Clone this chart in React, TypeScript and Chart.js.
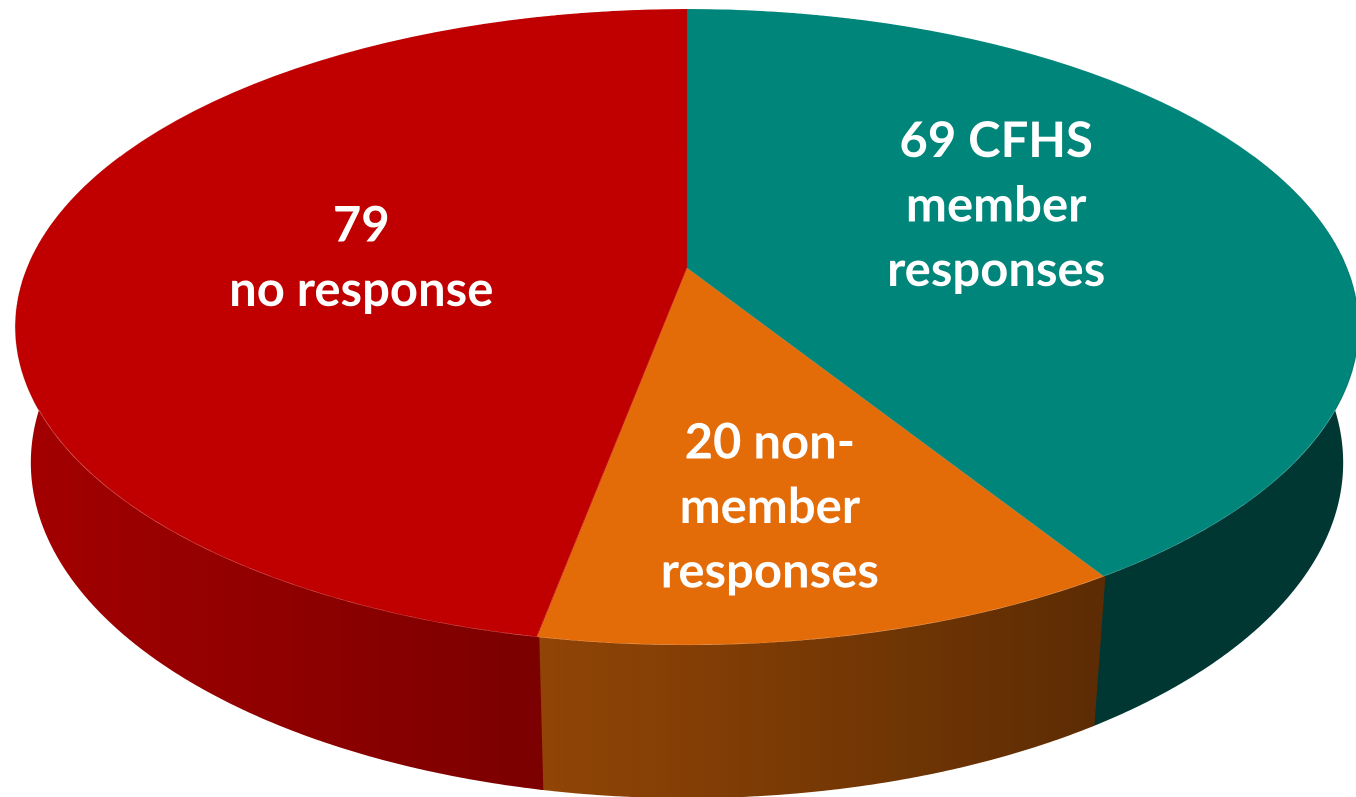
import React, { useEffect, useRef } from "react";
import { Chart, registerables } from "chart.js";

Chart.register(...registerables);

// ---- data ----
const CATEGORIES = ["CFHS member responses", "Non-member responses", "No response"];
const VALUES = [69, 20, 79];
const COLORS = ["#00857A", "#E36C09", "#C00000"];
const LABEL_LINES = [
  ["{v} CFHS", "member", "responses"],
  ["{v} non-", "member", "responses"],
  ["{v}", "no response"],
];

// ---- layout / style ----
const W = 1356;
const H = 797;
const CAMERA = {
  u0: 687,
  v0: 268,
  focal: 3149,
  distance: 4.771,
  tilt: (27.72 * Math.PI) / 180,
  depth: 0.2343,
};
const LABEL_STYLE = { size: 49, family: "Lato", lineHeight: 64.5, capHeight: 34, color: "#ffffff" };
const LABEL_POS = [
  { r: 0.5, dx: 0, dy: -22 },
  { r: 0.69, dx: -14, dy: 0 },
  { r: 0.5, dx: 0, dy: 3 },
];

function project(X: number, Y: number, Z: number): [number, number] {
  const s = Math.sin(CAMERA.tilt);
  const c = Math.cos(CAMERA.tilt);
  const w = CAMERA.distance + Y * c - Z * s;
  return [CAMERA.u0 + (CAMERA.focal * X) / w, CAMERA.v0 - (CAMERA.focal * (Y * s + Z * c)) / w];
}

function shadeAt(x: number) {
  return Math.min(1, Math.max(0.41, 0.85 - 0.000411 * (x - 30)));
}

function scaleColor(hex: string, k: number) {
  const h = hex.replace("#", "");
  const r = parseInt(h.slice(0, 2), 16);
  const g = parseInt(h.slice(2, 4), 16);
  const b = parseInt(h.slice(4, 6), 16);
  return `rgb(${Math.round(r * k)},${Math.round(g * k)},${Math.round(b * k)})`;
}

const pie3d = {
  id: "pie3d",
  afterDraw(chart: any) {
    const meta = chart.getDatasetMeta(0);
    const arcs = meta.data;
    if (!arcs || !arcs.length) return;
    const canvas: HTMLCanvasElement = chart.canvas;
    const ctx: CanvasRenderingContext2D = chart.ctx;
    const pr = chart.currentDevicePixelRatio || 1;
    const base = arcs[0].getProps(["x", "y", "outerRadius"], true);
    const cx = base.x;
    const cy = base.y;
    const R = base.outerRadius;

    const off = document.createElement("canvas");
    off.width = canvas.width;
    off.height = canvas.height;
    (off.getContext("2d") as CanvasRenderingContext2D).drawImage(canvas, 0, 0);

    ctx.save();
    ctx.setTransform(pr, 0, 0, pr, 0, 0);
    ctx.clearRect(0, 0, chart.width, chart.height);

    const s = Math.sin(CAMERA.tilt);
    const c = Math.cos(CAMERA.tilt);

    // side walls
    const front0 = Math.PI / 2 - 0.4;
    const front1 = 1.5 * Math.PI + 0.4;
    arcs.forEach((el: any) => {
      const p = el.getProps(["startAngle", "endAngle"], true);
      const a = Math.max(p.startAngle + Math.PI / 2 - 0.003, front0);
      const b = Math.min(p.endAngle + Math.PI / 2 + 0.003, front1);
      if (b <= a) return;
      const n = Math.max(8, Math.ceil((b - a) / 0.005));
      const top: [number, number][] = [];
      const bot: [number, number][] = [];
      for (let k = 0; k <= n; k++) {
        const t = a + ((b - a) * k) / n;
        const X = Math.sin(t);
        const Y = Math.cos(t);
        top.push(project(X, Y, 0));
        bot.push(project(X, Y, -CAMERA.depth));
      }
      let minX = Infinity;
      let maxX = -Infinity;
      [...top, ...bot].forEach(([x]) => {
        minX = Math.min(minX, x);
        maxX = Math.max(maxX, x);
      });
      const color = el.options.backgroundColor as string;
      const g = ctx.createLinearGradient(minX, 0, maxX + 0.01, 0);
      for (let k = 0; k <= 12; k++) {
        const x = minX + ((maxX - minX) * k) / 12;
        g.addColorStop(k / 12, scaleColor(color, shadeAt(x)));
      }
      ctx.beginPath();
      ctx.moveTo(top[0][0], top[0][1]);
      for (let k = 1; k < top.length; k++) ctx.lineTo(top[k][0], top[k][1]);
      for (let k = bot.length - 1; k >= 0; k--) ctx.lineTo(bot[k][0], bot[k][1]);
      ctx.closePath();
      ctx.fillStyle = g;
      ctx.fill();
    });

    // top face: perspective warp of the flat pie, row by row
    const rowY = (v: number) => {
      const t = (CAMERA.v0 - v) / CAMERA.focal;
      return (t * CAMERA.distance) / (s - t * c);
    };
    const vTop = project(0, 1, 0)[1];
    const vBot = project(0, -1, 0)[1];
    const sx = (cx - R - 1) * pr;
    const sw = (2 * R + 2) * pr;
    const widthScale = (R + 1) / R;
    ctx.imageSmoothingEnabled = true;
    for (let py = Math.floor(vTop * pr) - 2; py <= Math.ceil(vBot * pr) + 2; py++) {
      const v1 = py / pr;
      const v2 = (py + 1) / pr;
      const Y1 = rowY(v1);
      const Y2 = rowY(v2);
      if (Y2 > 1.01 || Y1 < -1.01) continue;
      const Ym = (Y1 + Y2) / 2;
      const w = CAMERA.distance + Ym * c;
      const half = (CAMERA.focal / w) * widthScale;
      const sy = (cy - Y1 * R) * pr;
      const sh = Math.max((Y1 - Y2) * R * pr, 0.05);
      ctx.drawImage(off, sx, sy, sw, sh, CAMERA.u0 - half, v1, 2 * half, 1 / pr);
    }

    // labels
    ctx.fillStyle = LABEL_STYLE.color;
    ctx.font = `bold ${LABEL_STYLE.size}px ${LABEL_STYLE.family}, "Open Sans", sans-serif`;
    ctx.textAlign = "center";
    ctx.textBaseline = "alphabetic";
    const data = chart.data.datasets[0].data;
    arcs.forEach((el: any, i: number) => {
      const p = el.getProps(["startAngle", "endAngle"], true);
      const mid = (p.startAngle + p.endAngle) / 2 + Math.PI / 2;
      const pos = LABEL_POS[i];
      const [ax, ay] = project(pos.r * Math.sin(mid), pos.r * Math.cos(mid), 0);
      const lines = LABEL_LINES[i].map((l) => l.replace("{v}", String(data[i])));
      const n = lines.length;
      lines.forEach((line, j) => {
        ctx.fillText(
          line,
          ax + pos.dx,
          ay + pos.dy + (j - (n - 1) / 2) * LABEL_STYLE.lineHeight + LABEL_STYLE.capHeight / 2
        );
      });
    });

    ctx.restore();
  },
};

export default function App() {
  const ref = useRef<HTMLCanvasElement | null>(null);
  useEffect(() => {
    if (!ref.current) return;
    const chart = new Chart(ref.current, {
      type: "pie",
      data: {
        labels: CATEGORIES,
        datasets: [
          {
            data: VALUES,
            backgroundColor: COLORS,
            borderWidth: 0,
            radius: "96%",
          } as any,
        ],
      },
      options: {
        animation: false,
        responsive: true,
        maintainAspectRatio: false,
        devicePixelRatio: 2,
        events: [],
        layout: { padding: 0 },
        plugins: {
          legend: { display: false },
          tooltip: { enabled: false },
        },
      },
      plugins: [pie3d as any],
    });
    let alive = true;
    if ((document as any).fonts && (document as any).fonts.load) {
      (document as any).fonts
        .load(`bold ${LABEL_STYLE.size}px ${LABEL_STYLE.family}`)
        .then(() => {
          if (alive) chart.draw();
        })
        .catch(() => {});
    }
    return () => {
      alive = false;
      chart.destroy();
    };
  }, []);
  return (
    <div style={{ position: "fixed", left: 0, top: 0, width: W, height: H, background: "#ffffff" }}>
      <canvas ref={ref} />
    </div>
  );
}
